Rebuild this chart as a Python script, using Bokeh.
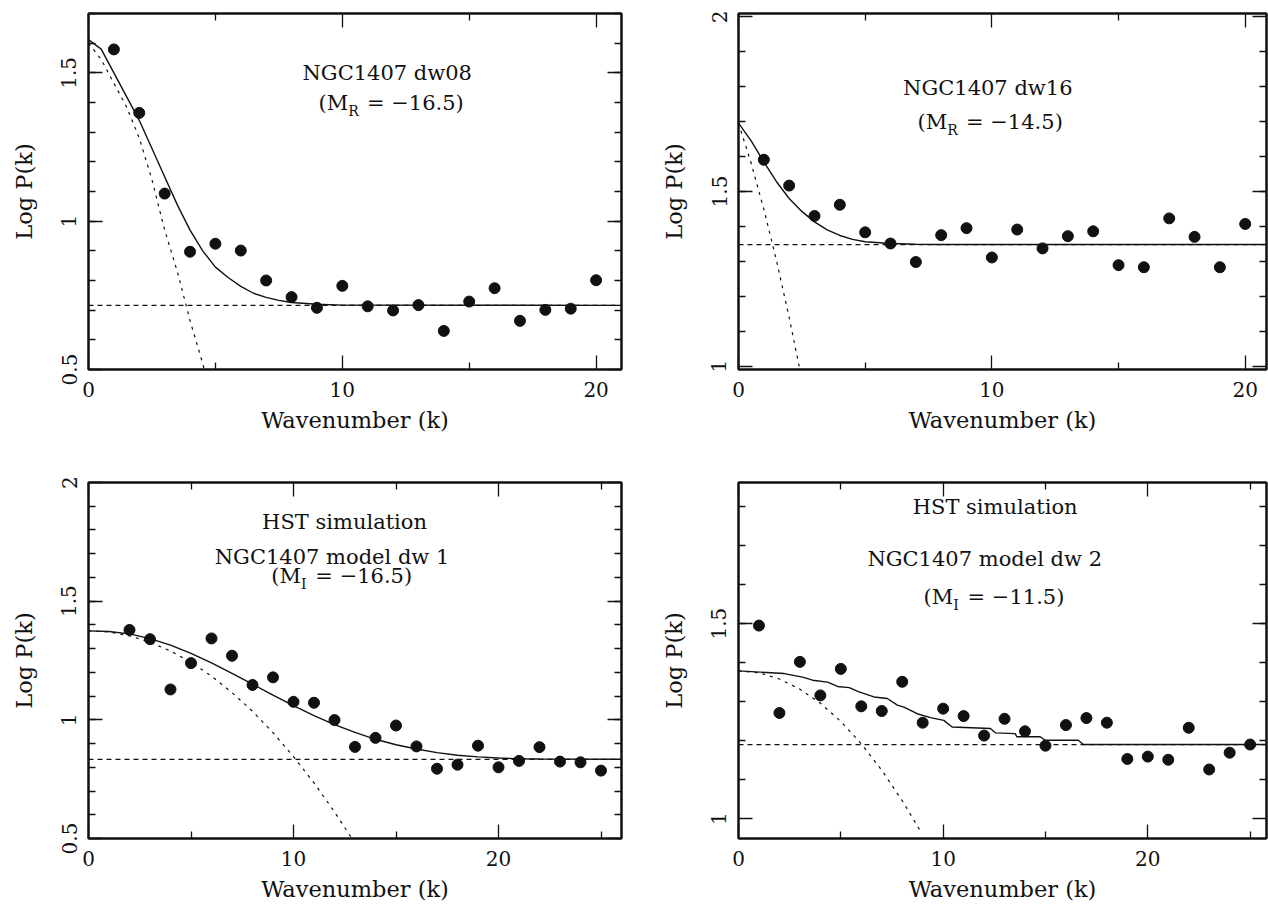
from bokeh.plotting import figure
from bokeh.models import FixedTicker, Span, Label, LinearAxis, Range1d
from bokeh.layouts import column, row
from bokeh.embed import file_html
from bokeh.resources import INLINE

# ---------------- data ----------------
# Panel 1 : NGC1407 dw08
p1_k = [1, 2, 3, 4, 5, 6, 7, 8, 9, 10, 11, 12, 13, 14, 15, 16, 17, 18, 19, 20]
p1_logp = [1.579, 1.365, 1.093, 0.897, 0.924, 0.901, 0.800, 0.744, 0.708, 0.782,
           0.713, 0.699, 0.717, 0.630, 0.729, 0.774, 0.664, 0.701, 0.705, 0.801]
p1_fit_k = [0, 0.5, 1, 1.5, 2, 2.5, 3, 3.5, 4, 4.5, 5, 5.5, 6, 6.5, 7, 7.5, 8, 9, 10, 21]
p1_fit = [1.612, 1.58, 1.50, 1.42, 1.34, 1.245, 1.15, 1.055, 0.97, 0.90, 0.845, 0.81,
          0.78, 0.757, 0.743, 0.733, 0.726, 0.72, 0.717, 0.716]
p1_psf_k = [0, 0.5, 1, 1.5, 2, 2.5, 3, 3.5, 4, 4.5, 4.56]
p1_psf = [1.60, 1.545, 1.465, 1.385, 1.28, 1.14, 0.97, 0.83, 0.665, 0.52, 0.5]
p1_bg = 0.716

# Panel 2 : NGC1407 dw16
p2_k = [1, 2, 3, 4, 5, 6, 7, 8, 9, 10, 11, 12, 13, 14, 15, 16, 17, 18, 19, 20]
p2_logp = [1.591, 1.517, 1.430, 1.462, 1.383, 1.351, 1.298, 1.375, 1.395, 1.311,
           1.391, 1.337, 1.372, 1.386, 1.289, 1.283, 1.423, 1.370, 1.283, 1.407]
p2_fit_k = [0, 0.5, 1, 1.5, 2, 2.5, 3, 3.5, 4, 4.5, 5, 6, 7, 8, 21]
p2_fit = [1.696, 1.645, 1.585, 1.528, 1.48, 1.443, 1.413, 1.39, 1.374, 1.363, 1.356,
          1.351, 1.349, 1.348, 1.348]
p2_psf_k = [0, 0.5, 1, 1.5, 2, 2.42]
p2_psf = [1.696, 1.581, 1.449, 1.302, 1.139, 0.99]
p2_bg = 1.348

# Panel 3 : HST simulation, model dw 1
p3_k = [2, 3, 4, 5, 6, 7, 8, 9, 10, 11, 12, 13, 14, 15, 16, 17, 18, 19, 20, 21, 22, 23, 24, 25]
p3_logp = [1.379, 1.340, 1.128, 1.239, 1.343, 1.270, 1.147, 1.179, 1.076, 1.072, 0.999,
           0.886, 0.924, 0.976, 0.888, 0.794, 0.811, 0.891, 0.800, 0.827, 0.885, 0.824,
           0.821, 0.786]
p3_fit_k = [0, 1, 2, 3, 4, 5, 6, 7, 8, 9, 10, 11, 12, 13, 14, 15, 16, 17, 18, 19, 20, 21, 22, 26]
p3_fit = [1.375, 1.372, 1.362, 1.342, 1.315, 1.280, 1.240, 1.196, 1.150, 1.104, 1.060,
          1.018, 0.980, 0.947, 0.918, 0.895, 0.877, 0.862, 0.851, 0.844, 0.839, 0.836,
          0.835, 0.834]
p3_psf_k = [0, 1, 2, 3, 4, 5, 6, 7, 8, 9, 10, 11, 12, 12.85]
p3_psf = [1.375, 1.370, 1.354, 1.327, 1.290, 1.243, 1.184, 1.115, 1.036, 0.946, 0.845,
          0.734, 0.612, 0.5]
p3_bg = 0.833

# Panel 4 : HST simulation, model dw 2
p4_k = [1, 2, 3, 4, 5, 6, 7, 8, 9, 10, 11, 12, 13, 14, 15, 16, 17, 18, 19, 20, 21, 22, 23, 24, 25]
p4_logp = [1.495, 1.271, 1.402, 1.316, 1.384, 1.288, 1.276, 1.351, 1.246, 1.282, 1.263,
           1.213, 1.256, 1.224, 1.187, 1.240, 1.258, 1.246, 1.153, 1.159, 1.151, 1.233,
           1.126, 1.169, 1.190]
p4_fit_k = [0, 2.24, 3.13, 3.62, 4.35, 4.84, 5.41, 5.89, 6.62, 7.27, 7.76, 8.08, 8.73,
            9.38, 10.03, 10.44, 12.31, 12.55, 13.52, 13.6, 14.74, 14.98, 16.6, 16.85, 26]
p4_fit = [1.379, 1.372, 1.363, 1.355, 1.350, 1.339, 1.336, 1.325, 1.312, 1.308, 1.291,
          1.286, 1.269, 1.259, 1.252, 1.235, 1.231, 1.220, 1.218, 1.210, 1.210, 1.201,
          1.201, 1.190, 1.190]
p4_psf_k = [0, 1, 2, 3, 4, 5, 6, 7, 8, 8.9]
p4_psf = [1.379, 1.374, 1.358, 1.332, 1.296, 1.249, 1.192, 1.124, 1.046, 0.967]
p4_bg = 1.190

x_label = "Wavenumber (k)"
y_label = "Log P(k)"

FONT = "DejaVu Serif"
INK = "#111111"


def frange(a, b, step):
    out = []
    v = a
    while v <= b + 1e-9:
        out.append(round(v, 3))
        v += step
    return out


def tick_text(v):
    return ("%g" % v)


def panel(width, height, xr, yr, borders, x_major, x_minor, y_major, y_minor):
    left, right, top, bottom = borders
    p = figure(width=width, height=height, x_range=Range1d(*xr), y_range=Range1d(*yr),
               output_backend="svg", toolbar_location=None,
               min_border_left=left, min_border_right=right,
               min_border_top=top, min_border_bottom=bottom)
    p.xgrid.visible = False
    p.ygrid.visible = False
    p.background_fill_color = "white"
    p.border_fill_color = "white"
    p.outline_line_color = INK
    p.outline_line_width = 2

    def style(ax, ticks, minor, show):
        ax.ticker = FixedTicker(ticks=ticks, minor_ticks=minor)
        ax.axis_line_color = INK
        ax.axis_line_width = 2
        ax.major_tick_line_color = INK
        ax.minor_tick_line_color = INK
        ax.major_tick_line_width = 1.3
        ax.minor_tick_line_width = 1.3
        ax.major_tick_in = 14
        ax.major_tick_out = 0
        ax.minor_tick_in = 7
        ax.minor_tick_out = 0
        ax.major_label_text_font = FONT
        ax.major_label_text_font_size = "20px"
        ax.major_label_text_color = INK
        if show:
            ax.major_label_overrides = {t: tick_text(t) for t in ticks}
        else:
            ax.major_label_overrides = {t: "" for t in ticks}
            ax.major_label_standoff = 0
            ax.major_label_text_font_size = "1px"

    xa = p.xaxis[0]
    style(xa, x_major, x_minor, True)
    xa.major_label_standoff = 12
    xa.axis_label = x_label
    xa.axis_label_text_font = FONT
    xa.axis_label_text_font_style = "normal"
    xa.axis_label_text_font_size = "22.5px"
    xa.axis_label_text_color = INK
    xa.axis_label_standoff = 7

    ya = p.yaxis[0]
    style(ya, y_major, y_minor, True)
    ya.major_label_orientation = "vertical"
    ya.major_label_standoff = 12
    ya.axis_label = y_label
    ya.axis_label_text_font = FONT
    ya.axis_label_text_font_style = "normal"
    ya.axis_label_text_font_size = "22.5px"
    ya.axis_label_text_color = INK
    ya.axis_label_standoff = 22

    top_ax = LinearAxis()
    style(top_ax, x_major, x_minor, False)
    p.add_layout(top_ax, "above")
    right_ax = LinearAxis()
    style(right_ax, y_major, y_minor, False)
    p.add_layout(right_ax, "right")
    return p


def draw(p, k, logp, fit_k, fit, psf_k, psf, bg):
    p.add_layout(Span(location=bg, dimension="width", line_color=INK,
                      line_width=1.2, line_dash="5 4"))
    p.line(psf_k, psf, line_color=INK, line_width=1.2, line_dash="3 5")
    p.line(fit_k, fit, line_color=INK, line_width=1.4)
    p.scatter(k, logp, size=11, marker="circle", fill_color=INK, line_color=INK)


def text(p, x, y, s):
    p.add_layout(Label(x=x, y=y, text=s, text_font=FONT, text_font_size="21px",
                       text_color=INK, text_align="center", text_baseline="middle"))


def mag(p, x, y, sub, rest, sub_w):
    head_w = 27.5
    gap = 8.0
    rest_w = 97.0
    start = -(head_w + sub_w + gap + rest_w) / 2.0
    anchor = start + head_w
    p.add_layout(Label(x=x, y=y, x_offset=anchor, text="(M", text_font=FONT,
                       text_font_size="21px", text_color=INK, text_align="right",
                       text_baseline="middle"))
    p.add_layout(Label(x=x, y=y, x_offset=anchor, y_offset=-8, text=sub, text_font=FONT,
                       text_font_size="14px", text_color=INK, text_align="left",
                       text_baseline="middle"))
    p.add_layout(Label(x=x, y=y, x_offset=anchor + sub_w + gap, text=rest, text_font=FONT,
                       text_font_size="21px", text_color=INK, text_align="left",
                       text_baseline="middle"))


xt_a = [0, 10, 20]
xm_a = [5, 15]
xm_b = [5, 15, 25]

p1 = panel(657, 449, (0, 21), (0.5, 1.7), (88, 36, 13, 80), xt_a, xm_a,
           [0.5, 1, 1.5], frange(0.6, 1.7, 0.1))
draw(p1, p1_k, p1_logp, p1_fit_k, p1_fit, p1_psf_k, p1_psf, p1_bg)
text(p1, 11.77, 1.50, "NGC1407 dw08")
mag(p1, 11.97, 1.40, "R", "= \u221216.5)", 10.8)

p2 = panel(611, 449, (0, 20.84), (0.99, 2.01), (80, 2, 13, 80), xt_a, xm_a,
           [1, 1.5, 2], frange(1.1, 1.9, 0.1))
draw(p2, p2_k, p2_logp, p2_fit_k, p2_fit, p2_psf_k, p2_psf, p2_bg)
text(p2, 9.84, 1.797, "NGC1407 dw16")
mag(p2, 9.98, 1.699, "R", "= \u221214.5)", 10.8)

p3 = panel(657, 455, (0, 26), (0.5, 2.0), (88, 36, 33, 66), xt_a, xm_b,
           [0.5, 1, 1.5, 2], frange(0.6, 1.9, 0.1))
draw(p3, p3_k, p3_logp, p3_fit_k, p3_fit, p3_psf_k, p3_psf, p3_bg)
text(p3, 12.49, 1.833, "HST simulation")
text(p3, 11.88, 1.685, "NGC1407 model dw 1")
mag(p3, 12.41, 1.608, "I", "= \u221216.5)", 6.4)

p4 = panel(611, 455, (0, 25.8), (0.949, 1.862), (80, 2, 33, 66), xt_a, xm_b,
           [1, 1.5], frange(1.1, 1.8, 0.1))
draw(p4, p4_k, p4_logp, p4_fit_k, p4_fit, p4_psf_k, p4_psf, p4_bg)
text(p4, 12.54, 1.799, "HST simulation")
text(p4, 12.03, 1.666, "NGC1407 model dw 2")
mag(p4, 12.54, 1.568, "I", "= \u221211.5)", 6.4)

layout = column(row(p1, p2), row(p3, p4))
open("out.html", "w").write(file_html(layout, INLINE))
